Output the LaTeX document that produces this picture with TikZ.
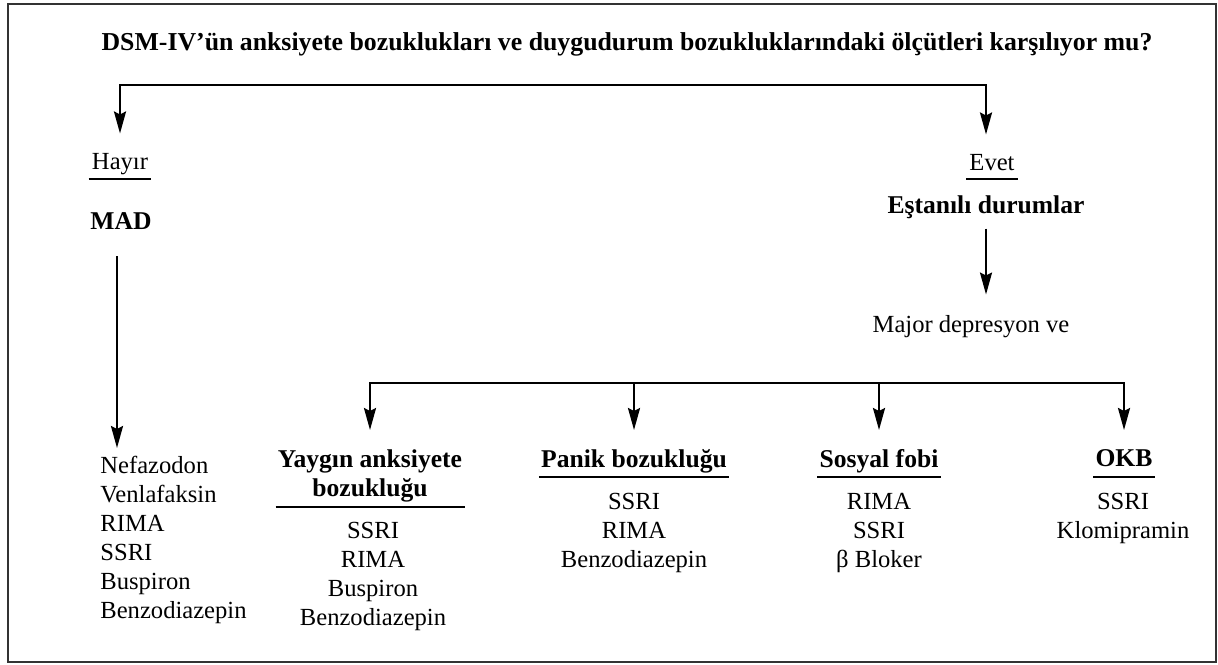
\documentclass[tikz,border=0pt]{standalone}
\usepackage{fontspec}
\setmainfont{Liberation Serif}
\usetikzlibrary{arrows.meta}

\begin{document}
\begin{tikzpicture}[x=0.5pt,y=-0.5pt,>={Stealth[length=11pt,width=6pt,inset=1.5pt]},
  txt/.style={inner sep=0pt,font=\fontsize{12.3}{14.5}\selectfont},
  hd/.style={txt,align=center,font=\bfseries\fontsize{12.8}{14.5}\selectfont},
  lst/.style={txt,align=center},
  conn/.style={line width=1.15pt,shorten >=9.5pt},
  uline/.style={line width=0.8pt},
  frame/.style={line width=1pt,draw=black!80}]
   \useasboundingbox (0,0) rectangle (1218,664);
   \draw[frame] (8,4) rectangle (1216,662);

   \node[hd,anchor=base,font=\bfseries\fontsize{12.9}{14.5}\selectfont] (soru) at (627,50) {DSM-IV’ün anksiyete bozuklukları ve duygudurum bozukluklarındaki ölçütleri karşılıyor mu?};
   \node[txt,anchor=base,inner xsep=1.5pt] (hayir) at (120,169) {Hayır};
   \node[txt,anchor=base,inner xsep=1.5pt] (evet) at (992,170) {Evet};
   \node[hd,anchor=base] (mad) at (121,229) {MAD};
   \node[hd,anchor=base] (esd) at (986,213) {Eştanılı durumlar};
   \node[txt,anchor=base] (mdv) at (971,332) {Major depresyon ve};
   \node[txt,align=left,anchor=north west] (madl) at (100,456) {Nefazodon\\Venlafaksin\\RIMA\\SSRI\\Buspiron\\Benzodiazepin};

   \node[hd,anchor=north,inner xsep=1pt] (yab) at (370,449) {Yaygın anksiyete\\bozukluğu};
   \node[hd,anchor=north,inner xsep=1pt] (pb) at (634,449) {Panik bozukluğu};
   \node[hd,anchor=north,inner xsep=1pt] (sf) at (879,449) {Sosyal fobi};
   \node[hd,anchor=north,inner xsep=1pt] (okb) at (1124,449) {OKB};
   \node[lst,anchor=north] (yabl) at (373,522) {SSRI\\RIMA\\Buspiron\\Benzodiazepin};
   \node[lst,anchor=north] (pbl) at (634,493) {SSRI\\RIMA\\Benzodiazepin};
   \node[lst,anchor=north] (sfl) at (879,493) {RIMA\\SSRI\\β Bloker};
   \node[lst,anchor=north] (okbl) at (1123,493) {SSRI\\Klomipramin};

   \draw[uline] (hayir.west |- 0,179) -- (hayir.east |- 0,179);
   \draw[uline] (evet.west |- 0,179) -- (evet.east |- 0,179);
   \draw[uline] (yab.west |- 0,507) -- (yab.east |- 0,507);
   \foreach \n in {pb,sf,okb}
     \draw[uline] (\n.west |- 0,477) -- (\n.east |- 0,477);

   \coordinate (ust) at (0,85);
   \coordinate (alt) at (0,383);
   \draw[<->,conn,shorten <=9.5pt] (hayir.north) -- (hayir |- ust) -- (esd |- ust) -- (esd |- evet.north);
   \draw[->,conn,shorten <=13.5pt,shorten >=4pt] ([xshift=-2pt]mad.south) -- ([xshift=-2pt]mad.south |- madl.north);
   \draw[->,conn,shorten <=5pt,shorten >=10pt] (esd.south) -- (esd.south |- mdv.north);
   \draw[<->,conn,shorten <=9.5pt] (yab.north) -- (yab |- alt) -- (okb |- alt) -- (okb.north);
   \foreach \n in {pb,sf}
     \draw[->,conn] (\n |- alt) -- (\n.north);
\end{tikzpicture}
\end{document}
